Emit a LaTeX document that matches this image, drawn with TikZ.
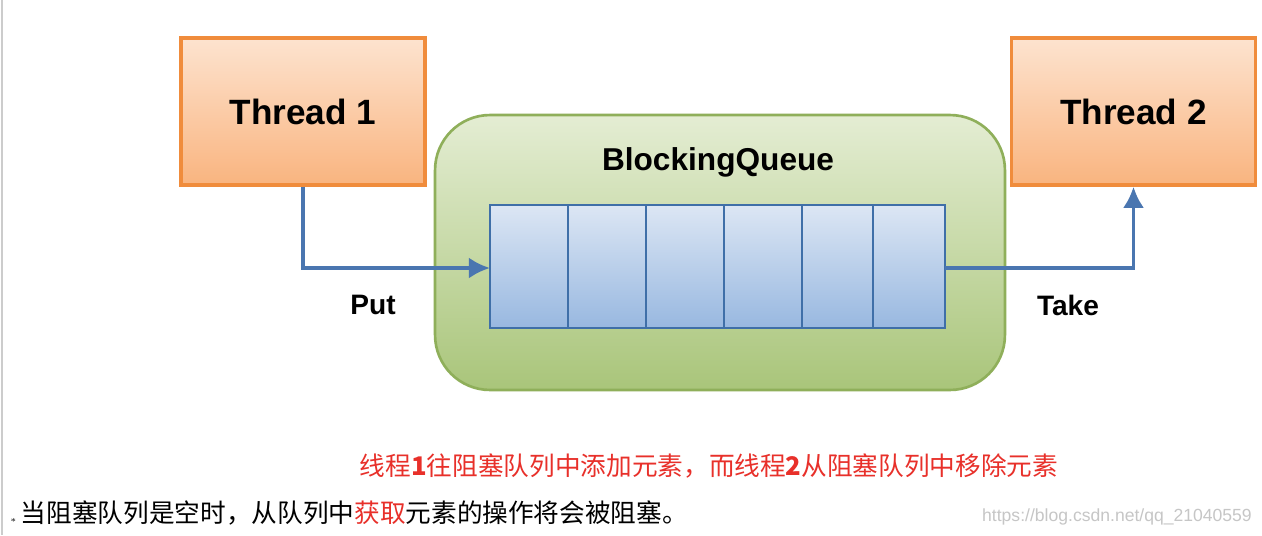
\documentclass[tikz,border=0pt]{standalone}
\usepackage{fontspec}
\setmainfont{Liberation Sans}
\newfontfamily\cjk{Noto Sans CJK SC}
\usetikzlibrary{arrows.meta}
\definecolor{thrborder}{HTML}{F08C3C}
\definecolor{thrtop}{HTML}{FDE3CF}
\definecolor{thrbot}{HTML}{F9B47F}
\definecolor{qborder}{HTML}{8FAF5A}
\definecolor{qtop}{HTML}{E4EDD3}
\definecolor{qbot}{HTML}{A9C57A}
\definecolor{cellborder}{HTML}{3F6FA8}
\definecolor{celltop}{HTML}{DCE6F4}
\definecolor{cellbot}{HTML}{98B8E0}
\definecolor{flow}{HTML}{4A76B0}
\definecolor{note}{HTML}{E8302A}
\tikzset{
  thread/.style={draw=thrborder, line width=2pt, top color=thrtop, bottom color=thrbot,
    minimum width=4.88cm, minimum height=2.94cm, font=\fontsize{20}{24}\selectfont\bfseries},
  cell/.style={draw=cellborder, line width=1.5pt, top color=celltop, bottom color=cellbot},
  flowline/.style={draw=flow, line width=2.2pt, -{Latex[length=12pt,width=12pt]}},
  lbl/.style={font=\fontsize{16}{19}\selectfont\bfseries}
}
\begin{document}
\begin{tikzpicture}[x=0.02cm,y=-0.02cm]
  \useasboundingbox [fill=white] (0,0) rectangle (1262,535);
  \draw [gray!40, line width=1pt] (2,0) -- (2,535);
  % threads
  \node (thread1) [thread] at (303,111.5) {Thread 1};
  \node (thread2) [thread] at (1133.5,111.5) {Thread 2};
  % queue
  \node (queue) [draw=qborder, line width=1.5pt, top color=qtop, bottom color=qbot,
    rounded corners=1.1cm, minimum width=11.4cm, minimum height=5.5cm] at (720,252.5) {};
  \node (qtitle) [font=\fontsize{18}{22}\selectfont\bfseries] at (718,162) {BlockingQueue};
  \foreach \a/\b [count=\i] in {490/568,568/646,646/724,724/802,802/873,873/945}
    \draw [cell] (\a,205) rectangle (\b,328) coordinate (c\i);
  \coordinate (qin) at (490,268);
  \coordinate (qout) at (945,268);
  % flows
  \draw [flowline] (thread1.south) |- (qin);
  \draw [flowline] (qout) -| (thread2.south);
  \node (put) [lbl] at (373,305) {Put};
  \node (take) [lbl] at (1068,305) {Take};
  % notes
  \node (note1) [text=note, font=\cjk\fontsize{14.6}{17}\selectfont] at (709,466)
    {线程\textbf{1}往阻塞队列中添加元素，而线程\textbf{2}从阻塞队列中移除元素};
  \node (note2) [anchor=west, font=\cjk\fontsize{14.6}{17}\selectfont] at (4,513)
    {{\tiny$\ast$}\,当阻塞队列是空时，从队列中\textcolor{note}{获取}元素的操作将会被阻塞。};
  \node (mark) [anchor=east, text=gray!45, font=\fontsize{10}{12}\selectfont] at (1258,517)
    {https://blog.csdn.net/qq\_21040559};
\end{tikzpicture}
\end{document}
